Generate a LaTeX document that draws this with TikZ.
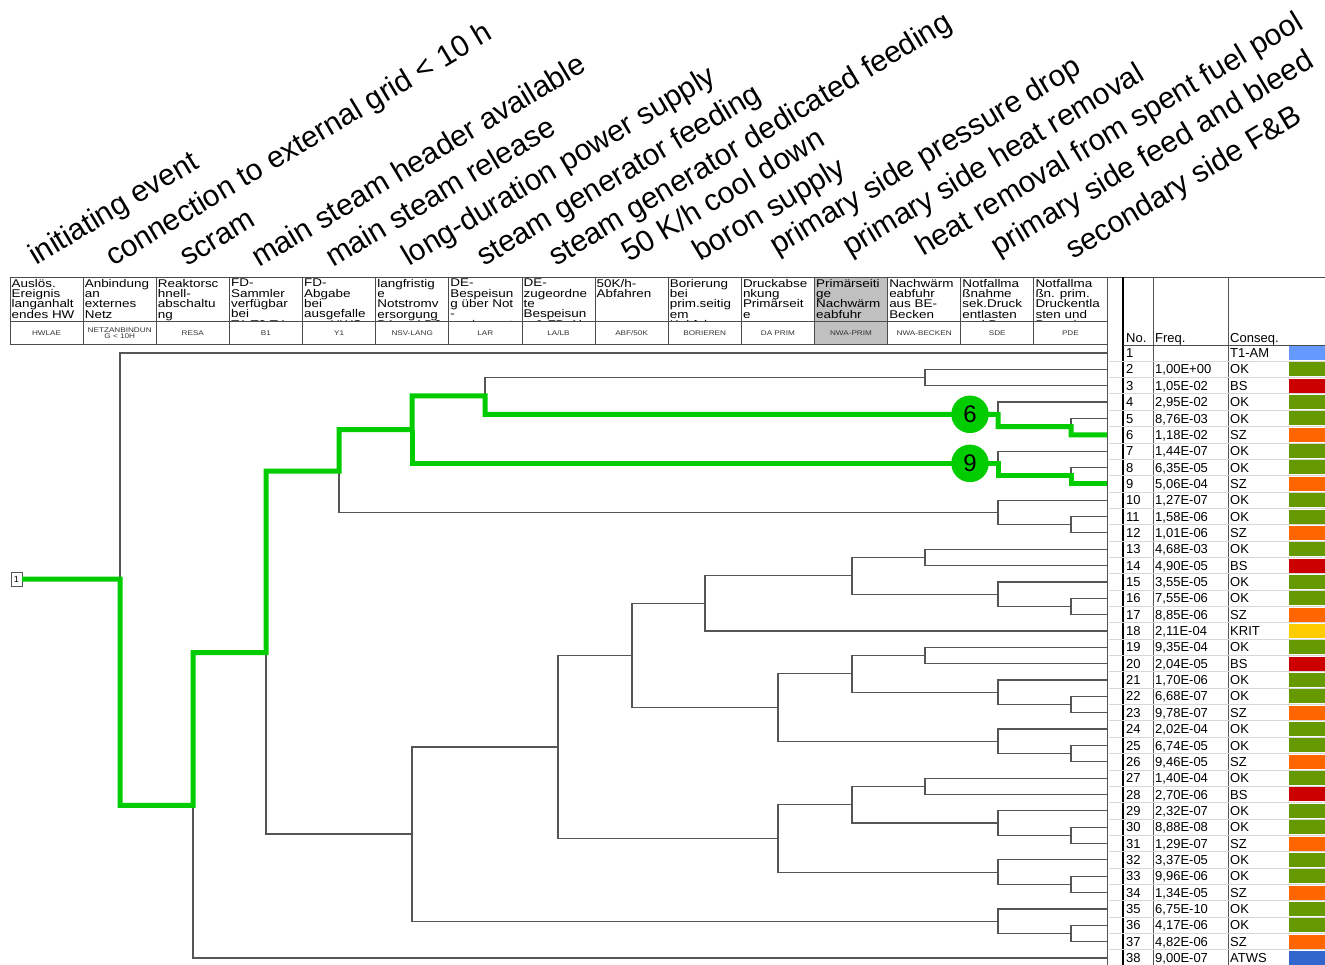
\documentclass[tikz,border=0pt]{standalone}
\usepackage{fontspec}
\setmainfont{Liberation Sans}
\newfontfamily\cellfont[FakeStretch=1.2]{Liberation Sans}
\usepackage{tikz}

\definecolor{hlgreen}{RGB}{0,204,0}
\definecolor{treegray}{RGB}{85,85,85}
\definecolor{cellgray}{RGB}{192,192,192}
\definecolor{rowgray}{RGB}{215,215,215}
\definecolor{okgreen}{RGB}{102,153,0}
\definecolor{bsred}{RGB}{204,0,0}
\definecolor{szorange}{RGB}{255,102,0}
\definecolor{kritgold}{RGB}{255,204,0}
\definecolor{amblue}{RGB}{102,153,255}
\definecolor{atwsblue}{RGB}{51,102,204}

\begin{document}
\begin{tikzpicture}[x=1pt,y=-1pt,
  branch/.style={draw=treegray,line width=1.2pt},
  hlpath/.style={draw=hlgreen,line width=5pt},
  seqnum/.style={circle,fill=hlgreen,minimum size=37.5pt,inner sep=0pt,font=\fontsize{24}{24}\selectfont},
  evlabel/.style={anchor=base west,rotate=31,inner sep=0pt,font=\fontsize{30}{34}\selectfont},
  celltxt/.style={anchor=north west,inner sep=0pt,align=left,
    font={\cellfont\fontsize{11.2}{10.3}\selectfont\lineskiplimit=-8pt},
    execute at begin node={\rule{0pt}{9pt}}},
  codetxt/.style={inner sep=0pt,align=center,text=black!80,
    font={\cellfont\fontsize{6.8}{6}\selectfont\lineskiplimit=-8pt}},
  cellline/.style={draw=black!70,line width=0.8pt},
  rowtxt/.style={anchor=base west,inner sep=0pt,font=\fontsize{13}{13}\selectfont},
  rowline/.style={draw=rowgray,line width=0.8pt}]

  \useasboundingbox (0,0) rectangle (1325,965);

  % Event labels
  \foreach \x/\y/\t [count=\k] in {
      36/266/initiating event,
      113/267/connection to external grid < 10 h,
      187/267/scram,
      259/268/main steam header available,
      333/268/main steam release,
      409/267/long-duration power supply,
      484/267/steam generator feeding,
      556/267/steam generator dedicated feeding,
      629/263/{50 K/h cool down},
      700/262/boron supply,
      777/256/primary side pressure drop,
      850/257/primary side heat removal,
      923/257/heat removal from spent fuel pool,
      998/257/primary side feed and bleed,
      1073/260/secondary side F\&B}
    \node[evlabel] (ev\k) at (\x,\y) {\t};

  % Function event header
  \fill[cellgray] (814.43,277) rectangle (887.56,344);
  \foreach \i/\txt/\code in {
      1/{Auslös.\\Ereignis\\langanhalt\\endes HW}/HWLAE,
      2/{Anbindung\\an\\externes\\Netz}/{NETZANBINDUN\\G < 10H},
      3/{Reaktorsc\\hnell-\\abschaltu\\ng}/RESA,
      4/{FD-\\Sammler\\verfügbar\\bei\\T1 T2 T4}/B1,
      5/{FD-\\Abgabe\\bei\\ausgefalle\\nen HWS}/Y1,
      6/{langfristig\\e\\Notstromv\\ersorgung\\D1 und D2}/NSV-LANG,
      7/{DE-\\Bespeisun\\g über Not\\-\\speisesyst}/LAR,
      8/{DE-\\zugeordne\\te\\Bespeisun\\g \& FD-Ab}/{LA/LB},
      9/{50K/h-\\Abfahren}/{ABF/50K},
      10/{Borierung\\bei\\prim.seitig\\em\\Kaltfahren}/BORIEREN,
      11/{Druckabse\\nkung\\Primärseit\\e}/DA PRIM,
      12/{Primärseiti\\ge\\Nachwärm\\eabfuhr}/NWA-PRIM,
      13/{Nachwärm\\eabfuhr\\aus BE-\\Becken}/NWA-BECKEN,
      14/{Notfallma\\ßnahme\\sek.Druck\\entlasten\\und Bespe}/SDE,
      15/{Notfallma\\ßn. prim.\\Druckentla\\sten und\\Bespeisen}/PDE}{
    \pgfmathsetmacro\xl{10+(\i-1)*73.13}
    \begin{scope}
      \clip (\xl,277) rectangle ++(73.13,44);
      \node[celltxt] (fe\i) at (\xl+1.5,279) {\txt};
    \end{scope}
    \node[codetxt] (fc\i) at (\xl+36.57,333) {\code};
  }
  \draw[cellline] (10,277) -- (1325,277);
  \draw[cellline] (10,321) -- (1107,321);
  \draw[cellline] (10,344) -- (1107,344);
  \foreach \i in {0,...,14}
    \draw[cellline] ({10+\i*73.13},277) -- ++(0,67);

  % Result table
  \draw[draw=treegray,line width=1pt] (1107.5,277) -- (1107.5,965);
  \draw[draw=black,line width=2pt] (1123,277) -- (1123,965);
  \draw[draw=treegray,line width=1pt] (1153,277) -- (1153,965);
  \draw[draw=treegray,line width=1pt] (1228,277) -- (1228,965);
  \draw[draw=black!70,line width=1pt] (1123,345.5) -- (1325,345.5);
  \node[rowtxt] (hno) at (1126,343) {No.};
  \node[rowtxt] (hfr) at (1155,343) {Freq.};
  \node[rowtxt] (hcq) at (1230,343) {Conseq.};
  \foreach \i/\f/\c/\col in {
      1//T1-AM/amblue, 2/{1,00E+00}/OK/okgreen, 3/{1,05E-02}/BS/bsred,
      4/{2,95E-02}/OK/okgreen, 5/{8,76E-03}/OK/okgreen, 6/{1,18E-02}/SZ/szorange,
      7/{1,44E-07}/OK/okgreen, 8/{6,35E-05}/OK/okgreen, 9/{5,06E-04}/SZ/szorange,
      10/{1,27E-07}/OK/okgreen, 11/{1,58E-06}/OK/okgreen, 12/{1,01E-06}/SZ/szorange,
      13/{4,68E-03}/OK/okgreen, 14/{4,90E-05}/BS/bsred, 15/{3,55E-05}/OK/okgreen,
      16/{7,55E-06}/OK/okgreen, 17/{8,85E-06}/SZ/szorange, 18/{2,11E-04}/KRIT/kritgold,
      19/{9,35E-04}/OK/okgreen, 20/{2,04E-05}/BS/bsred, 21/{1,70E-06}/OK/okgreen,
      22/{6,68E-07}/OK/okgreen, 23/{9,78E-07}/SZ/szorange, 24/{2,02E-04}/OK/okgreen,
      25/{6,74E-05}/OK/okgreen, 26/{9,46E-05}/SZ/szorange, 27/{1,40E-04}/OK/okgreen,
      28/{2,70E-06}/BS/bsred, 29/{2,32E-07}/OK/okgreen, 30/{8,88E-08}/OK/okgreen,
      31/{1,29E-07}/SZ/szorange, 32/{3,37E-05}/OK/okgreen, 33/{9,96E-06}/OK/okgreen,
      34/{1,34E-05}/SZ/szorange, 35/{6,75E-10}/OK/okgreen, 36/{4,17E-06}/OK/okgreen,
      37/{4,82E-06}/SZ/szorange, 38/{9,00E-07}/ATWS/atwsblue}{
    \pgfmathsetmacro\y{353+(\i-1)*16.35}
    \coordinate (e\i) at (1107,\y);
    \draw[rowline] (1108.5,\y+8.17) -- (1325,\y+8.17);
    \node[rowtxt] (no\i) at (1126,\y+4.6) {\i};
    \node[rowtxt] (fr\i) at (1155,\y+4.6) {\f};
    \node[rowtxt] (cq\i) at (1230,\y+4.6) {\c};
    \fill[\col] (1289,\y-7) rectangle (1325,\y+7);
  }

  % Branch points
  \node[draw=treegray,inner sep=0pt,minimum width=11pt,minimum height=14pt,
    font=\fontsize{9}{9}\selectfont] (ie) at (16.5,579) {1};
  \coordinate (j1-38) at (120,579.12);
  \coordinate (j2-38) at (193,805.25);
  \coordinate (j2-37) at (266,652.54);
  \coordinate (j2-12) at (339,471.03);
  \coordinate (j2-9) at (412,429.64);
  \coordinate (j2-6) at (485,395.92);
  \coordinate (j2-3) at (925,377.53);
  \coordinate (j4-6) at (998,414.31);
  \coordinate (j5-6) at (1071,426.58);
  \coordinate (j7-9) at (998,463.36);
  \coordinate (j8-9) at (1071,475.63);
  \coordinate (j10-12) at (998,512.41);
  \coordinate (j11-12) at (1071,524.68);
  \coordinate (j13-37) at (412,834.05);
  \coordinate (j13-34) at (558,746.93);
  \coordinate (j13-26) at (632,655.48);
  \coordinate (j13-18) at (705,603.36);
  \coordinate (j13-17) at (852,575.77);
  \coordinate (j13-14) at (925,557.38);
  \coordinate (j15-17) at (998,594.16);
  \coordinate (j16-17) at (1071,606.43);
  \coordinate (j19-26) at (778,707.59);
  \coordinate (j19-23) at (852,673.87);
  \coordinate (j19-20) at (925,655.48);
  \coordinate (j21-23) at (998,692.26);
  \coordinate (j22-23) at (1071,704.53);
  \coordinate (j24-26) at (998,741.31);
  \coordinate (j25-26) at (1071,753.58);
  \coordinate (j27-34) at (778,838.39);
  \coordinate (j27-31) at (852,804.67);
  \coordinate (j27-28) at (925,786.28);
  \coordinate (j29-31) at (998,823.06);
  \coordinate (j30-31) at (1071,835.33);
  \coordinate (j32-34) at (998,872.11);
  \coordinate (j33-34) at (1071,884.38);
  \coordinate (j35-37) at (998,921.16);
  \coordinate (j36-37) at (1071,933.43);

  % Event tree
  \draw[branch] (ie) -- (j1-38);
  \draw[branch] (e1) -| (j1-38) |- (j2-38);
  \draw[branch] (j2-37) -| (j2-38) |- (e38);
  \draw[branch] (j2-12) -| (j2-37) |- (j13-37);
  \draw[branch] (j2-9) -| (j2-12) |- (j10-12);
  \draw[branch] (j2-6) -| (j2-9) |- (j7-9);
  \draw[branch] (j2-3) -| (j2-6) |- (j4-6);
  \draw[branch] (e2) -| (j2-3) |- (e3);
  \draw[branch] (e4) -| (j4-6) |- (j5-6);
  \draw[branch] (e5) -| (j5-6) |- (e6);
  \draw[branch] (e7) -| (j7-9) |- (j8-9);
  \draw[branch] (e8) -| (j8-9) |- (e9);
  \draw[branch] (e10) -| (j10-12) |- (j11-12);
  \draw[branch] (e11) -| (j11-12) |- (e12);
  \draw[branch] (j13-34) -| (j13-37) |- (j35-37);
  \draw[branch] (j13-26) -| (j13-34) |- (j27-34);
  \draw[branch] (j13-18) -| (j13-26) |- (j19-26);
  \draw[branch] (j13-17) -| (j13-18) |- (e18);
  \draw[branch] (j13-14) -| (j13-17) |- (j15-17);
  \draw[branch] (e13) -| (j13-14) |- (e14);
  \draw[branch] (e15) -| (j15-17) |- (j16-17);
  \draw[branch] (e16) -| (j16-17) |- (e17);
  \draw[branch] (j19-23) -| (j19-26) |- (j24-26);
  \draw[branch] (j19-20) -| (j19-23) |- (j21-23);
  \draw[branch] (e19) -| (j19-20) |- (e20);
  \draw[branch] (e21) -| (j21-23) |- (j22-23);
  \draw[branch] (e22) -| (j22-23) |- (e23);
  \draw[branch] (e24) -| (j24-26) |- (j25-26);
  \draw[branch] (e25) -| (j25-26) |- (e26);
  \draw[branch] (j27-31) -| (j27-34) |- (j32-34);
  \draw[branch] (j27-28) -| (j27-31) |- (j29-31);
  \draw[branch] (e27) -| (j27-28) |- (e28);
  \draw[branch] (e29) -| (j29-31) |- (j30-31);
  \draw[branch] (e30) -| (j30-31) |- (e31);
  \draw[branch] (e32) -| (j32-34) |- (j33-34);
  \draw[branch] (e33) -| (j33-34) |- (e34);
  \draw[branch] (e35) -| (j35-37) |- (j36-37);
  \draw[branch] (e36) -| (j36-37) |- (e37);

  % Highlighted sequences 6 and 9
  \draw[hlpath] (ie.east) -- (j1-38) |- (j2-38) |- (j2-37) |- (j2-12) |- (j2-9)
    |- (j2-6) |- (j4-6) |- (j5-6) |- (e6);
  \draw[hlpath] (j2-9) |- (j7-9) |- (j8-9) |- (e9);
  \node[seqnum] (s6) at (970,414.31) {6};
  \node[seqnum] (s9) at (970,463.36) {9};
\end{tikzpicture}
\end{document}
